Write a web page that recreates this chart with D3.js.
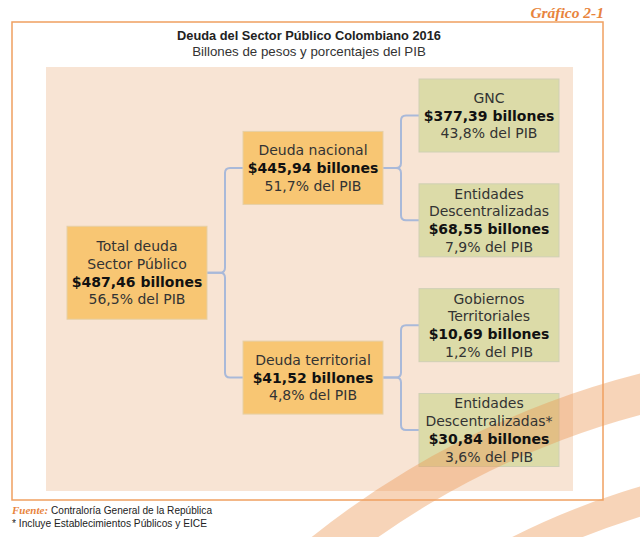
<!DOCTYPE html>
<html lang="es">
<head>
    <meta charset="UTF-8">
    <title>Deuda del Sector Público Colombiano 2016</title>
    <script src="https://cdn.jsdelivr.net/npm/d3@7"></script>
    <style>
    body { margin: 0; background: white; }
    g.links path { fill: none; stroke: #a9b9d9; stroke-width: 2; }
    text { fill: #222; }
    </style>
</head>
<body>
    <script>

        // data
        var ids      = ["total", "nacional", "territorial", "gnc", "descNac", "gobTer", "descTer"];
        var parents  = [null, "total", "total", "nacional", "nacional", "territorial", "territorial"];
        var names    = ["Total deuda\nSector Público", "Deuda nacional", "Deuda territorial", "GNC",
                        "Entidades\nDescentralizadas", "Gobiernos\nTerritoriales", "Entidades\nDescentralizadas*"];
        var billones = [487.46, 445.94, 41.52, 377.39, 68.55, 10.69, 30.84];
        var pctPIB   = [56.5, 51.7, 4.8, 43.8, 7.9, 1.2, 3.6];

        var width = 640;
        var height = 537;

        var locale = d3.formatLocale({decimal: ",", thousands: ".", grouping: [3], currency: ["$", ""]});
        var fmtVal = locale.format(",.2f");
        var fmtPct = locale.format(".1f");

        var rows = ids.map(function(id, i){
            return {id: id, parent: parents[i], name: names[i], value: billones[i], pct: pctPIB[i]};
        });
        var root = d3.stratify().id(function(d){ return d.id; }).parentId(function(d){ return d.parent; })(rows);
        d3.tree().nodeSize([1, 1]).separation(function(){ return 1; })(root);

        var boxW = 140, lh = 17.7;
        var x = d3.scalePoint().domain([0, 1, 2]).range([67, 419]);
        var y = d3.scaleLinear().domain([-1.5, 1.5]).range([115.5, 430]);
        function boxH(d){ return d.depth === 0 ? 93 : 73; }

        var svg = d3.select("body").append("svg").attr("width", width).attr("height", height);

        // panel
        svg.append("rect").attr("x", 46).attr("y", 67).attr("width", 527).attr("height", 424)
            .attr("fill", "#f8e4d4");

        // connectors (curly braces)
        var r = 5;
        svg.append("g").attr("class", "links")
            .selectAll("path")
            .data(root.links())
            .enter().append("path")
                .attr("d", function(l){
                    var px = x(l.source.depth) + boxW, py = y(l.source.x);
                    var cx = x(l.target.depth), cy = y(l.target.x);
                    var mx = (px + cx) / 2, s = cy > py ? 1 : -1;
                    return "M" + px + "," + py + "H" + (mx - r) +
                        "Q" + mx + "," + py + " " + mx + "," + (py + s * r) +
                        "V" + (cy - s * r) +
                        "Q" + mx + "," + cy + " " + (mx + r) + "," + cy +
                        "H" + cx;
                });

        // boxes
        var nodes = root.descendants();
        svg.append("g").attr("class", "boxes")
            .selectAll("rect")
            .data(nodes)
            .enter().append("rect")
                .attr("x", function(d){ return x(d.depth); })
                .attr("y", function(d){ return y(d.x) - boxH(d) / 2; })
                .attr("width", boxW)
                .attr("height", function(d){ return boxH(d); })
                .attr("fill", function(d){ return d.depth < 2 ? "#f8c673" : "#dcdba8"; })
                .attr("stroke", function(d){ return d.depth < 2 ? "#e6cfa6" : "#cfd0b4"; })
                .attr("stroke-width", 1);

        // decorative bands
        var bands = svg.append("g").attr("transform", "translate(853,1213)");
        bands.append("path")
            .attr("d", d3.arc()({innerRadius: 826, outerRadius: 866, startAngle: -0.72, endAngle: 0}))
            .attr("fill", "#eb9652").attr("opacity", 0.41);
        bands.append("path")
            .attr("d", d3.arc()({innerRadius: 728, outerRadius: 757, startAngle: -0.62, endAngle: 0}))
            .attr("fill", "#eb9652").attr("opacity", 0.41);

        // box texts
        var labels = svg.append("g").attr("class", "labels")
            .selectAll("text")
            .data(nodes)
            .enter().append("text")
                .attr("text-anchor", "middle")
                .style("font-family", "'DejaVu Sans', Verdana, sans-serif")
                .style("font-size", "14px");
        labels.each(function(d){
            var lines = d.data.name.split("\n").map(function(t){ return {t: t, b: false}; });
            lines.push({t: "$" + fmtVal(d.data.value) + " billones", b: true});
            lines.push({t: fmtPct(d.data.pct) + "% del PIB", b: false});
            var cx = x(d.depth) + boxW / 2;
            var top = y(d.x) - (lines.length - 1) / 2 * lh + 5;
            d3.select(this).selectAll("tspan")
                .data(lines)
                .enter().append("tspan")
                    .attr("x", cx)
                    .attr("y", function(l, i){ return top + i * lh; })
                    .style("font-weight", function(l){ return l.b ? "bold" : "normal"; })
                    .style("fill", function(l){ return l.b ? "#111" : "#333"; })
                    .text(function(l){ return l.t; });
        });

        // outer frame
        svg.append("rect").attr("x", 12).attr("y", 22).attr("width", 591).attr("height", 478)
            .attr("fill", "none").attr("stroke", "#f0a060").attr("stroke-width", 1.5);

        // titles
        svg.append("text").attr("x", 604).attr("y", 18).attr("text-anchor", "end")
            .style("font-family", "'Liberation Serif', serif").style("font-style", "italic")
            .style("font-weight", "bold").style("font-size", "15.5px").style("fill", "#e8843c")
            .text("Gráfico 2-1");
        svg.append("text").attr("x", 309).attr("y", 40).attr("text-anchor", "middle")
            .style("font-family", "'Liberation Sans', Arial, sans-serif").style("font-weight", "bold")
            .style("font-size", "12.8px")
            .text("Deuda del Sector Público Colombiano 2016");
        svg.append("text").attr("x", 309).attr("y", 56).attr("text-anchor", "middle")
            .style("font-family", "'Liberation Sans', Arial, sans-serif").style("font-size", "13.3px")
            .style("fill", "#333")
            .text("Billones de pesos y porcentajes del PIB");

        // footer
        svg.append("text").attr("x", 12).attr("y", 514)
            .style("font-family", "'Liberation Serif', serif").style("font-style", "italic")
            .style("font-weight", "bold").style("font-size", "11px").style("fill", "#e8843c")
            .text("Fuente:");
        svg.append("text").attr("x", 51).attr("y", 514)
            .attr("textLength", 161).attr("lengthAdjust", "spacingAndGlyphs")
            .style("font-family", "'Liberation Sans', Arial, sans-serif").style("font-size", "11px")
            .text("Contraloría General de la República");
        svg.append("text").attr("x", 12).attr("y", 527)
            .attr("textLength", 195).attr("lengthAdjust", "spacingAndGlyphs")
            .style("font-family", "'Liberation Sans', Arial, sans-serif").style("font-size", "11px")
            .text("* Incluye Establecimientos Públicos y EICE");

    </script>
</body>
</html>
